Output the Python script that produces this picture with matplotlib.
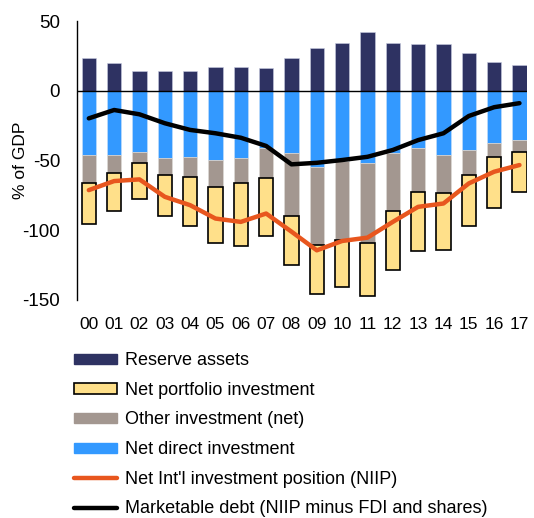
import numpy as np
import matplotlib
matplotlib.use("Agg")
import matplotlib.pyplot as plt
from matplotlib.lines import Line2D
from matplotlib.patches import Patch

plt.rcParams['font.family'] = ['Liberation Sans', 'DejaVu Sans']

years = ['00', '01', '02', '03', '04', '05', '06', '07', '08',
         '09', '10', '11', '12', '13', '14', '15', '16', '17']
reserve = [23.5, 20, 14, 14, 14, 17.5, 17.5, 16.3, 23.5,
           30.7, 34.5, 42, 34.5, 33.6, 33.6, 27, 21, 18.5]
direct = [-46, -46, -43.7, -48.4, -47.3, -49.9, -48.4, -41.2, -44.8,
          -54.5, -50, -52, -44.3, -41.2, -46, -42.4, -37.6, -35.3]
other = [-20, -12.8, -7.9, -11.6, -14.4, -18.9, -18, -21.6, -44.9,
         -55.8, -57.2, -56.8, -41.8, -31.5, -27.6, -17.6, -10.1, -8.4]
portfolio = [-29.7, -27.3, -25.9, -29.5, -35.2, -40.2, -45.1, -41.5, -35.5,
             -35.7, -33.6, -38.4, -42.7, -42.3, -40.3, -37, -36, -28.7]
niip = [-71.2, -64.7, -63.5, -76, -82, -91.6, -94, -88, -101,
        -114.4, -107.7, -105.3, -94, -83.2, -80.8, -66.4, -58, -53.2]
debt = [-19.7, -13.7, -16.8, -23.2, -28, -30.4, -33.6, -39.5, -52.7,
        -51.6, -49.6, -47.3, -42.4, -35.3, -30.4, -18, -11.7, -8.8]

c_res = '#2E3262'
c_dir = '#3399FF'
c_oth = '#A39790'
c_port = '#FFE08A'
c_niip = '#E8561E'

fig = plt.figure(figsize=(5.34, 5.18), dpi=100)
ax = fig.add_axes([0.144, 0.421, 0.843, 0.538])

x = np.arange(len(years))
w = 0.56
direct = np.array(direct)
other = np.array(other)
ax.bar(x, reserve, w, color=c_res, edgecolor='#C8CCE0', linewidth=0.4, zorder=2)
ax.bar(x, direct, w, color=c_dir, edgecolor='#C8E0F8', linewidth=0.4, zorder=2)
ax.bar(x, other, w, bottom=direct, color=c_oth, edgecolor='#E0DCD8', linewidth=0.4, zorder=2)
ax.bar(x, portfolio, w, bottom=direct + other, color=c_port, edgecolor='black',
       linewidth=1.2, zorder=2)
ax.axhline(0, color='black', linewidth=1, zorder=3)
ax.plot(x, niip, color=c_niip, linewidth=3.2, zorder=4, solid_capstyle='round')
ax.plot(x, debt, color='black', linewidth=3.2, zorder=4, solid_capstyle='round')

ax.set_xlim(-0.47, 17.3)
ax.set_ylim(-150, 50)
ax.set_yticks([-150, -100, -50, 0, 50])
ax.set_yticklabels(['-150', '-100', '-50', '0', '50'])
ax.set_xticks(x)
ax.set_xticklabels(years)
ax.tick_params(axis='x', length=0, labelsize=12.5, pad=12)
ax.tick_params(axis='y', length=0, labelsize=13.5, pad=12)
for s in ['top', 'right', 'bottom']:
    ax.spines[s].set_visible(False)
ax.spines['left'].set_linewidth(1)
ax.set_ylabel('% of GDP', fontsize=12.5)
ax.yaxis.set_label_coords(-0.108, 0.5)

handles = [
    Patch(facecolor=c_res, edgecolor=c_res),
    Patch(facecolor=c_port, edgecolor='black', linewidth=1.2),
    Patch(facecolor=c_oth, edgecolor=c_oth),
    Patch(facecolor=c_dir, edgecolor=c_dir),
    Line2D([], [], color=c_niip, linewidth=3.2, solid_capstyle='round'),
    Line2D([], [], color='black', linewidth=3.2, solid_capstyle='round'),
]
labels = ['Reserve assets', 'Net portfolio investment', 'Other investment (net)',
          'Net direct investment', "Net Int'l investment position (NIIP)",
          'Marketable debt (NIIP minus FDI and shares)']
fig.legend(handles, labels, loc='upper left', bbox_to_anchor=(0.125, 0.334),
           frameon=False, fontsize=13, handlelength=2.4, handleheight=0.5,
           handletextpad=0.4, labelspacing=0.7, borderaxespad=0)

fig.savefig('out.png', dpi=100)
